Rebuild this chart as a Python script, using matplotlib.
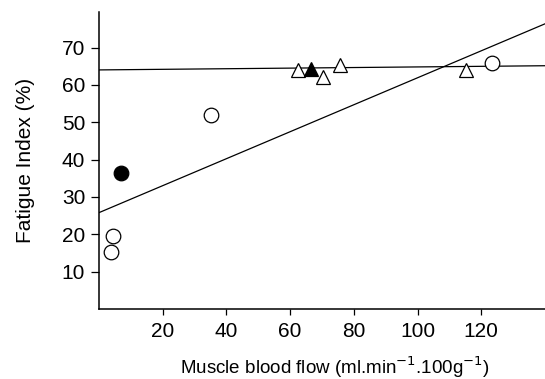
import matplotlib.pyplot as plt
import numpy as np

plt.rcParams['font.family'] = ['Liberation Sans', 'DejaVu Sans']

# open circles
circ_x = [3.9, 4.5, 35.1, 123.5]
circ_y = [15.3, 19.6, 52.0, 65.9]
# filled circle
fcirc_x = [7.0]
fcirc_y = [36.4]
# open triangles
tri_x = [62.6, 70.4, 75.5, 115.3]
tri_y = [64.0, 62.0, 65.4, 64.0]
# filled triangle
ftri_x = [66.5]
ftri_y = [64.2]

# regression lines (intercept, slope)
line_int = [64.0, 25.8]
line_slope = [0.008, 0.361]

xlim = (0, 140)
ylim = (0, 79.5)

fig = plt.figure(figsize=(5.45, 3.79), dpi=100)
ax = fig.add_axes([0.1817, 0.1847, 0.8183, 0.7836])

xs = np.array(xlim)
for b, m in zip(line_int, line_slope):
    ax.plot(xs, b + m * xs, color='black', lw=0.9, zorder=1)

ms = 10.5
ax.plot(circ_x, circ_y, 'o', ms=ms, mfc='white', mec='black', mew=0.9, zorder=3)
ax.plot(fcirc_x, fcirc_y, 'o', ms=ms, mfc='black', mec='black', mew=0.9, zorder=3)
ax.plot(tri_x, tri_y, '^', ms=ms, mfc='white', mec='black', mew=0.9, zorder=3)
ax.plot(ftri_x, ftri_y, '^', ms=ms, mfc='black', mec='black', mew=0.9, zorder=4)

ax.set_xlim(xlim)
ax.set_ylim(ylim)
ax.set_xticks([20, 40, 60, 80, 100, 120])
ax.set_yticks([10, 20, 30, 40, 50, 60, 70])
ax.tick_params(labelsize=15, width=0.9)
ax.tick_params(axis='x', length=4.5, pad=5)
ax.tick_params(axis='y', length=6, pad=4)
ax.spines['top'].set_visible(False)
ax.spines['right'].set_visible(False)
ax.spines['left'].set_linewidth(1.1)
ax.spines['bottom'].set_linewidth(1.1)

ax.set_xlabel('Muscle blood flow (ml.min$^{-1}$.100g$^{-1}$)', fontsize=13.5)
ax.xaxis.set_label_coords(0.529, -0.152)
ax.set_ylabel('Fatigue Index (%)', fontsize=15, labelpad=19)

fig.savefig('out.png', dpi=100)
